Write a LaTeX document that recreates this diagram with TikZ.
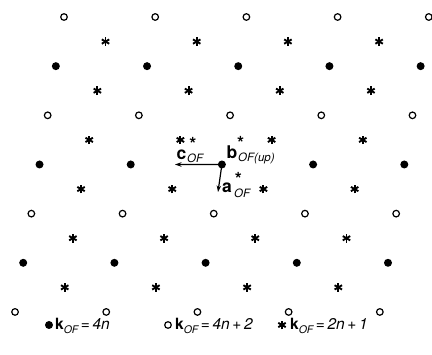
\documentclass[tikz,border=0pt]{standalone}
\usepackage{fontspec}
\setmainfont{TeX Gyre Heros}
\usetikzlibrary{arrows.meta}
\newcommand\legk[1]{\textbf{k}\raisebox{-0.25em}{\fontsize{10.5}{10.5}\selectfont\itshape OF}{\itshape #1}}
\tikzset{
  fdot/.style={circle,fill=black,inner sep=0pt,minimum size=8pt},
  odot/.style={circle,draw=black,line width=1.2pt,inner sep=0pt,minimum size=6.6pt},
  starmark/.pic={\foreach \a in {90,30,150}{\draw[line width=1.9pt] (\a:4.3) -- (\a+180:4.3);}},
  vec/.style={line width=1.2pt,-{Stealth[length=6.5pt,width=4.5pt]}},
  bigtxt/.style={font=\fontsize{17.5}{17.5}\selectfont\bfseries,inner sep=0pt,anchor=base west},
  subtxt/.style={font=\fontsize{11.5}{11.5}\selectfont\itshape,inner sep=0pt,anchor=base west},
  suptxt/.style={font=\fontsize{18}{18}\selectfont\bfseries,inner sep=0pt,anchor=base},
  legtxt/.style={font=\fontsize{15.5}{15.5}\selectfont,inner sep=0pt,anchor=base west}
}
\begin{document}
\begin{tikzpicture}[x=1pt,y=-1pt]
\useasboundingbox (0,0) rectangle (432,355);
\foreach \r in {0,...,12}{
  \pgfmathsetmacro\yy{17+24.58*\r}
  \pgfmathsetmacro\xx{64-4.08*\r}
  \pgfmathtruncatemacro\m{mod(\r,4)}
  \ifodd\r
    \foreach \i in {0,...,3} \pic at ({\xx+45.6+91.2*\i},\yy) {starmark};
  \else
    \ifnum\m=0
      \foreach \i in {0,...,4} \node[odot] (p-\r-\i) at ({\xx+91.2*\i},\yy) {};
    \else
      \foreach \i in {0,...,4} \node[fdot] (p-\r-\i) at ({\xx+91.2*\i},\yy) {};
    \fi
  \fi
}
% reciprocal vectors
\coordinate (cend) at (175,164.5);
\coordinate (aend) at (218,192);
\draw[vec] (p-6-2.center) -- (cend);
\draw[vec] (p-6-2.center) -- (aend);
% labels
\node[bigtxt] (cl) at (176.5,160) {c};
\node[subtxt] (cs) at (187,162.5) {OF};
\node[suptxt] (cst) at (193,151) {*};
\node[bigtxt] (bl) at (226.5,158.5) {b};
\node[subtxt] (bs) at (238,161.5) {OF(up)};
\node[suptxt] (bst) at (240.5,150) {*};
\node[bigtxt] (al) at (222,193) {a};
\node[subtxt] (as) at (234,198) {OF};
\node[suptxt] (ast) at (238.5,186) {*};
% legend
\node[fdot] (l1) at (49,325) {};
\node[legtxt] (t1) at (55,330) {\legk{\,=\,4n}};
\node[odot] (l2) at (168,325) {};
\node[legtxt] (t2) at (175,330) {\legk{\,=\,4n\,+\,2}};
\pic at (282,325) {starmark};
\node[legtxt] (t3) at (290,330) {\legk{\,=\,2n\,+\,1}};
\end{tikzpicture}
\end{document}
